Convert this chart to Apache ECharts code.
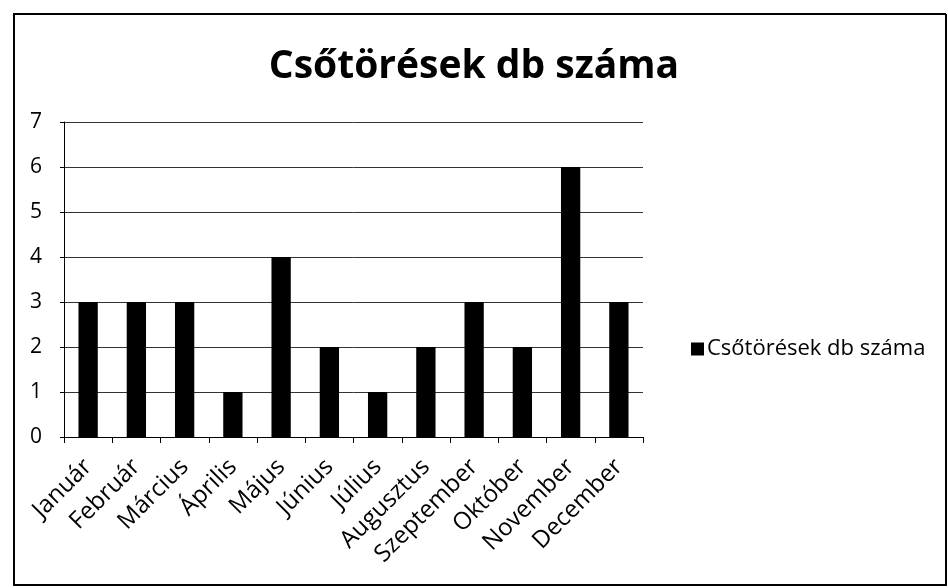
<!DOCTYPE html>
<html>
<head>
<meta charset="utf-8">
<script src="https://cdn.jsdelivr.net/npm/echarts@6/dist/echarts.min.js"></script>
<style>
html,body{margin:0;padding:0;background:#fff;}
#chart{width:948px;height:588px;}
</style>
</head>
<body>
<div id="chart"></div>
<script>
const titleText = 'Csőtörések db száma';
const seriesName = 'Csőtörések db száma';
const categories = ['Január','Február','Március','Április','Május','Június','Július','Augusztus','Szeptember','Október','November','December'];
const values = [3,3,3,1,4,2,1,2,3,2,6,3];
const yTicks = [0,1,2,3,4,5,6,7];

const chart = echarts.init(document.getElementById('chart'));
const font = '"Open Sans", Lato, sans-serif';
chart.setOption({
  animation: false,
  backgroundColor: '#fff',
  textStyle: {fontFamily: font},
  title: {
    text: titleText,
    left: 'center',
    top: 42,
    textStyle: {fontFamily: font, fontWeight: 'bold', fontSize: 39, color: '#000'}
  },
  legend: {
    data: [seriesName],
    orient: 'vertical',
    left: 686,
    top: 333,
    itemWidth: 13,
    itemHeight: 13,
    itemGap: 5,
    icon: 'rect',
    textStyle: {fontFamily: font, fontSize: 22, color: '#000', padding: [0,0,0,-2]}
  },
  graphic: [{
    type: 'polyline',
    shape: {points: [[946,14],[14,14],[14,585],[946,585],[946,14]]},
    style: {stroke: '#000', lineWidth: 2, fill: null},
    silent: true
  }],
  grid: {left: 64, right: 305, top: 122, bottom: 151, containLabel: false},
  xAxis: {
    type: 'category',
    data: categories,
    boundaryGap: true,
    axisLine: {show: true, lineStyle: {color: '#000', width: 1}},
    axisTick: {show: true, alignWithLabel: false, length: 6, lineStyle: {color: '#000'}},
    axisLabel: {rotate: 45, fontSize: 24, color: '#000', margin: 26, fontFamily: font, interval: 0}
  },
  yAxis: {
    type: 'value',
    min: yTicks[0],
    max: yTicks[yTicks.length-1],
    interval: 1,
    axisLine: {show: true, lineStyle: {color: '#000', width: 1}},
    axisTick: {show: true, length: 4, lineStyle: {color: '#000'}},
    axisLabel: {fontSize: 21, color: '#000', margin: 22, fontFamily: font},
    splitLine: {show: true, lineStyle: {color: '#333', width: 1}}
  },
  series: [{
    name: seriesName,
    type: 'bar',
    data: values,
    barWidth: '40%',
    itemStyle: {color: '#000'}
  }]
});
</script>
</body>
</html>
